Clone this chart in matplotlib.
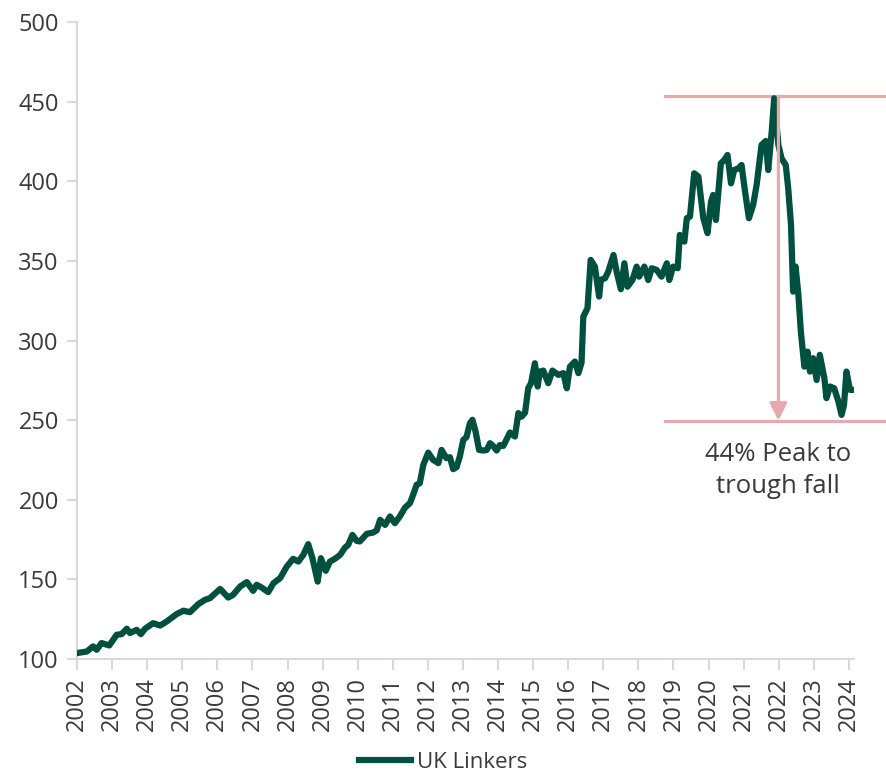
import matplotlib.pyplot as plt

plt.rcParams['font.family'] = ['Open Sans', 'DejaVu Sans']

# UK Linkers index (decimal year, level)
years = [
    2002.00, 2002.28, 2002.46, 2002.56, 2002.70, 2002.92, 2003.13, 2003.27, 2003.42, 2003.51,
    2003.70, 2003.82, 2003.94, 2004.17, 2004.37, 2004.56, 2004.84, 2005.03, 2005.22, 2005.46,
    2005.65, 2005.79, 2005.93, 2006.08, 2006.31, 2006.45, 2006.65, 2006.84, 2007.02, 2007.12,
    2007.26, 2007.45, 2007.60, 2007.79, 2007.98, 2008.16, 2008.31, 2008.45, 2008.59, 2008.71,
    2008.86, 2008.95, 2009.09, 2009.21, 2009.35, 2009.50, 2009.64, 2009.73, 2009.85, 2009.97,
    2010.06, 2010.26, 2010.44, 2010.54, 2010.64, 2010.78, 2010.92, 2011.06, 2011.20, 2011.35,
    2011.49, 2011.58, 2011.68, 2011.77, 2011.87, 2012.01, 2012.15, 2012.30, 2012.39, 2012.53,
    2012.63, 2012.72, 2012.82, 2012.91, 2013.01, 2013.10, 2013.20, 2013.27, 2013.36, 2013.46,
    2013.58, 2013.68, 2013.77, 2013.86, 2013.96, 2014.05, 2014.15, 2014.34, 2014.48, 2014.58,
    2014.67, 2014.77, 2014.86, 2014.94, 2015.05, 2015.13, 2015.19, 2015.29, 2015.43, 2015.55,
    2015.72, 2015.86, 2015.96, 2016.05, 2016.19, 2016.29, 2016.38, 2016.43, 2016.55, 2016.64,
    2016.76, 2016.88, 2016.93, 2017.05, 2017.14, 2017.29, 2017.38, 2017.50, 2017.60, 2017.69,
    2017.83, 2017.95, 2018.02, 2018.17, 2018.28, 2018.38, 2018.52, 2018.66, 2018.81, 2018.88,
    2018.99, 2019.12, 2019.18, 2019.31, 2019.38, 2019.47, 2019.59, 2019.71, 2019.85, 2019.97,
    2020.07, 2020.13, 2020.21, 2020.35, 2020.45, 2020.54, 2020.64, 2020.73, 2020.85, 2020.94,
    2021.04, 2021.15, 2021.27, 2021.37, 2021.51, 2021.63, 2021.70, 2021.80, 2021.87, 2021.99,
    2022.08, 2022.20, 2022.27, 2022.35, 2022.41, 2022.48, 2022.56, 2022.63, 2022.73, 2022.82,
    2022.89, 2022.98, 2023.08, 2023.17, 2023.30, 2023.36, 2023.46, 2023.58, 2023.70, 2023.79,
    2023.86, 2023.93, 2024.03, 2024.15,
]
values = [
    103.7, 104.7, 107.9, 105.8, 110.0, 108.5, 115.2, 115.6, 119.0, 116.3,
    118.3, 115.6, 119.0, 122.5, 121.0, 123.6, 128.2, 130.3, 129.4, 134.5,
    137.2, 138.2, 141.0, 144.0, 138.6, 140.3, 145.5, 148.3, 142.8, 146.6,
    144.9, 142.0, 147.6, 150.8, 158.1, 162.9, 161.2, 165.4, 172.1, 163.3,
    148.6, 163.3, 155.4, 161.2, 162.9, 165.4, 170.0, 171.7, 177.9, 174.2,
    173.8, 178.6, 179.4, 180.7, 187.4, 184.2, 189.5, 185.3, 189.5, 195.1,
    197.9, 203.1, 209.4, 210.4, 221.9, 229.6, 225.0, 223.0, 231.3, 226.1,
    226.7, 219.2, 220.5, 227.1, 237.6, 239.3, 248.1, 250.2, 242.8, 231.3,
    230.9, 231.3, 235.5, 233.8, 230.9, 234.3, 233.8, 242.2, 239.7, 254.4,
    252.2, 254.7, 270.0, 273.2, 285.7, 271.1, 280.5, 281.1, 273.2, 281.1,
    278.4, 279.5, 270.0, 283.6, 286.8, 279.5, 286.1, 315.0, 320.3, 350.6,
    346.4, 327.6, 338.1, 339.1, 343.2, 353.7, 343.2, 332.2, 348.5, 333.8,
    338.0, 346.4, 340.1, 346.4, 338.0, 345.4, 344.3, 340.1, 348.5, 338.0,
    346.4, 345.4, 366.3, 362.1, 376.8, 377.8, 405.0, 402.9, 376.8, 367.4,
    387.2, 391.4, 375.7, 411.3, 413.4, 416.5, 398.7, 407.1, 408.1, 410.2,
    393.5, 376.8, 385.1, 397.7, 422.8, 425.3, 407.1, 431.2, 452.1, 422.8,
    414.4, 410.2, 395.5, 372.6, 330.7, 346.4, 328.6, 305.6, 283.6, 293.0,
    280.5, 288.9, 275.2, 291.0, 276.3, 263.8, 271.1, 270.0, 261.7, 253.3,
    259.6, 280.5, 269.0, 269.0,
]

tick_years = list(range(2002, 2025))
peak_level = 453.5
trough_level = 249.7
arrow_year = 2021.99
band_start, band_end = 2018.75, 2025.1

green = '#00503F'
pink = '#E6A9AE'
grey_txt = '#3A3A3A'
spine_col = '#D9D9D9'

fig = plt.figure(figsize=(8.87, 7.73), dpi=100)
ax = fig.add_axes([0.0868, 0.1475, 0.8762, 0.824])

ax.plot(years, values, color=green, linewidth=4.5, solid_joinstyle='round',
        label='UK Linkers', zorder=3)

# peak / trough markers
ax.plot([band_start, band_end], [peak_level, peak_level], color=pink, lw=2.3,
        clip_on=False, zorder=2)
ax.plot([band_start, band_end], [trough_level, trough_level], color=pink, lw=2.3,
        clip_on=False, zorder=2)
ax.annotate('', xy=(arrow_year, trough_level), xytext=(arrow_year, peak_level),
            arrowprops=dict(arrowstyle='-|>', color=pink, lw=2.3,
                            mutation_scale=26, shrinkA=0, shrinkB=0),
            zorder=4)
ax.text(arrow_year, 218.5, '44% Peak to\ntrough fall', ha='center', va='center',
        fontsize=18.5, color=grey_txt, linespacing=1.38)

ax.set_xlim(2002, 2024.15)
ax.set_ylim(100, 500)
ax.set_xticks(tick_years)
ax.set_xticklabels([str(y) for y in tick_years], rotation=90)
ax.set_yticks(range(100, 501, 50))

for s in ['top', 'right']:
    ax.spines[s].set_visible(False)
for s in ['left', 'bottom']:
    ax.spines[s].set_color(spine_col)
    ax.spines[s].set_linewidth(1.5)
ax.tick_params(axis='both', colors=spine_col, width=1.5, labelsize=17,
               labelcolor=grey_txt)
ax.tick_params(axis='x', length=8, pad=5)
ax.tick_params(axis='y', length=7, pad=6)

fig.legend(loc='center', bbox_to_anchor=(0.5, 0.014), frameon=False,
           fontsize=16, handlelength=2.3, handletextpad=0.3,
           labelcolor=grey_txt)

fig.savefig('out.png', dpi=100)
